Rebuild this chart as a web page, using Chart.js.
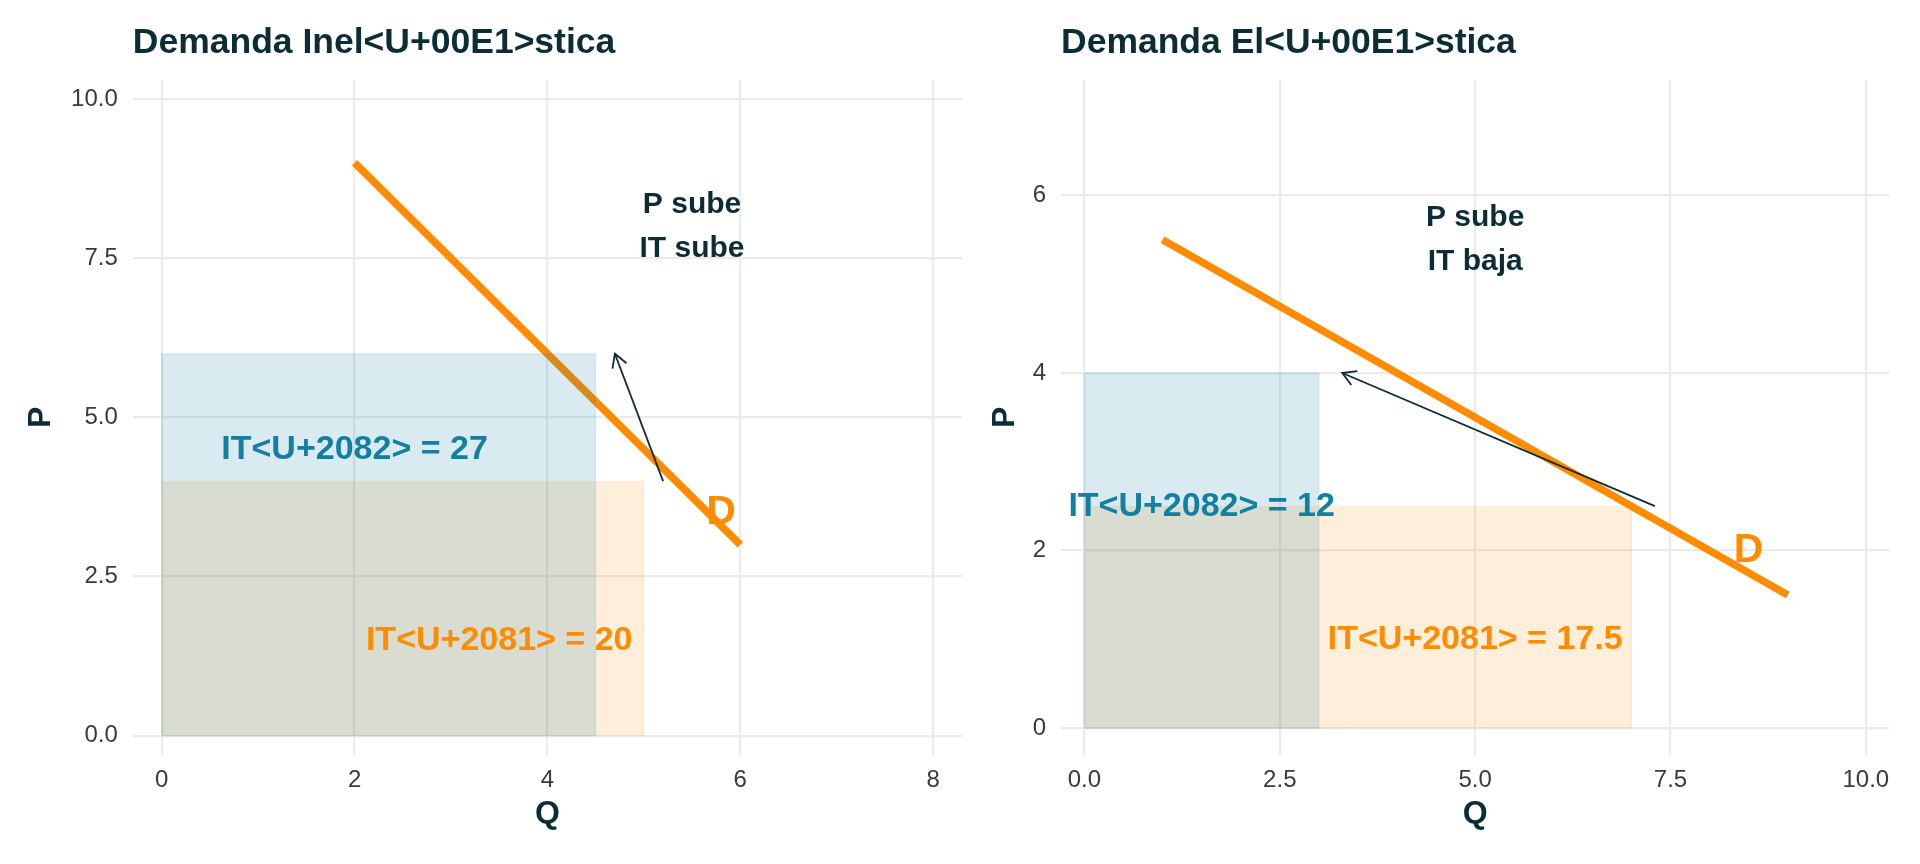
<!DOCTYPE html>
<html>
<head>
<meta charset="utf-8">
<title>Demanda inelástica vs elástica</title>
<script src="https://cdn.jsdelivr.net/npm/chart.js@4.4.1/dist/chart.umd.min.js"></script>
<style>
  html, body { margin: 0; padding: 0; background: #ffffff; }
  #wrap { position: relative; width: 1920px; height: 864px; overflow: hidden; }
  #inelasticChart { position: absolute; left: 0; top: 0; }
  #elasticChart { position: absolute; left: 980px; top: 0; }
</style>
</head>
<body>
<div id="wrap">
  <canvas id="inelasticChart" width="980" height="864"></canvas>
  <canvas id="elasticChart" width="940" height="864"></canvas>
</div>
<script>
// ---- Demanda inelástica ----
const inelQ = [5, 4.5];            // Q1, Q2
const inelP = [4, 6];              // P1, P2
const inelDemandQ = [2, 6];
const inelDemandP = [9, 3];
const inelArrowQ = [5.2, 4.7];
const inelArrowP = [4, 6];
const inelNotes = ['IT<U+2081> = 20', 'IT<U+2082> = 27', 'D', 'P sube\nIT sube'];
const inelNoteQ = [3.5, 2, 5.8, 5.5];
const inelNoteP = [1.5, 4.5, 3.5, 8];
const inelXTicks = [0, 2, 4, 6, 8];
const inelXTickLabels = ['0', '2', '4', '6', '8'];
const inelYTicks = [0, 2.5, 5, 7.5, 10];
const inelYTickLabels = ['0.0', '2.5', '5.0', '7.5', '10.0'];

// ---- Demanda elástica ----
const elasQ = [7, 3];              // Q1, Q2
const elasP = [2.5, 4];            // P1, P2
const elasDemandQ = [1, 9];
const elasDemandP = [5.5, 1.5];
const elasArrowQ = [7.3, 3.3];
const elasArrowP = [2.5, 4];
const elasNotes = ['IT<U+2081> = 17.5', 'IT<U+2082> = 12', 'D', 'P sube\nIT baja'];
const elasNoteQ = [5, 1.5, 8.5, 5];
const elasNoteP = [1, 2.5, 2, 5.5];
const elasXTicks = [0, 2.5, 5, 7.5, 10];
const elasXTickLabels = ['0.0', '2.5', '5.0', '7.5', '10.0'];
const elasYTicks = [0, 2, 4, 6];
const elasYTickLabels = ['0', '2', '4', '6'];

const noteKinds = ['it1', 'it2', 'd', 'note'];

// Styles
const FONT = "'Liberation Sans', Arial, Helvetica, sans-serif";
const DARK = '#0c2c36';
const TICK = '#3a3a3a';
const GRID = '#ebebeb';
const ORANGE = '#ff8c00';
const TEAL = '#1380a1';

const noteStyle = {
    it1: { color: ORANGE, size: 34, gap: 0 },
    it2: { color: TEAL, size: 34, gap: 0 },
    d: { color: ORANGE, size: 41, gap: 0 },
    note: { color: DARK, size: 30, gap: 44 }
};

Chart.defaults.font.family = FONT;

function zip(xs, ys) {
    return xs.map((x, i) => ({ x: x, y: ys[i] }));
}

// rectangle from the origin up to (q, p)
function rectPoints(q, p) {
    return zip([0, 0, q, q, 0], [0, p, p, 0, 0]);
}

// Open arrow heads at the end of datasets flagged with arrow: true
const arrowHeads = {
    id: 'arrowHeads',
    afterDatasetsDraw(chart) {
        const ctx = chart.ctx;
        chart.data.datasets.forEach((ds, i) => {
            if (!ds.arrow) return;
            const pts = chart.getDatasetMeta(i).data;
            const a = pts[pts.length - 2];
            const b = pts[pts.length - 1];
            const ang = Math.atan2(b.y - a.y, b.x - a.x);
            const len = 15;
            const spread = Math.PI / 6;
            ctx.save();
            ctx.strokeStyle = ds.borderColor;
            ctx.lineWidth = ds.borderWidth;
            ctx.beginPath();
            ctx.moveTo(b.x - len * Math.cos(ang - spread), b.y - len * Math.sin(ang - spread));
            ctx.lineTo(b.x, b.y);
            ctx.lineTo(b.x - len * Math.cos(ang + spread), b.y - len * Math.sin(ang + spread));
            ctx.stroke();
            ctx.restore();
        });
    }
};

// Text annotations placed through the chart scales
const noteLabels = {
    id: 'noteLabels',
    afterDatasetsDraw(chart, args, opts) {
        const ctx = chart.ctx;
        const xs = chart.scales.x;
        const ys = chart.scales.y;
        ctx.save();
        ctx.textAlign = 'center';
        ctx.textBaseline = 'middle';
        opts.text.forEach((t, i) => {
            const s = noteStyle[noteKinds[i]];
            const lines = t.split('\n');
            const cx = xs.getPixelForValue(opts.q[i]);
            const cy = ys.getPixelForValue(opts.p[i]);
            ctx.font = 'bold ' + s.size + 'px ' + FONT;
            ctx.fillStyle = s.color;
            lines.forEach((ln, k) => {
                ctx.fillText(ln, cx, cy + (k - (lines.length - 1) / 2) * s.gap);
            });
        });
        ctx.restore();
    }
};

function buildPanel(canvasId, p) {
    const ctx = document.getElementById(canvasId).getContext('2d');
    return new Chart(ctx, {
        type: 'line',
        data: {
            datasets: [{
                // arrow
                data: zip(p.arrowQ, p.arrowP),
                borderColor: DARK,
                borderWidth: 1.8,
                pointRadius: 0,
                fill: false,
                arrow: true
            }, {
                // IT2 rectangle
                data: rectPoints(p.q[1], p.p[1]),
                backgroundColor: 'rgba(19,128,161,0.16)',
                borderColor: 'rgba(19,128,161,0.10)',
                borderWidth: 1.5,
                pointRadius: 0,
                fill: 'shape'
            }, {
                // IT1 rectangle
                data: rectPoints(p.q[0], p.p[0]),
                backgroundColor: 'rgba(255,140,0,0.15)',
                borderColor: 'rgba(255,140,0,0.06)',
                borderWidth: 1,
                pointRadius: 0,
                fill: 'shape'
            }, {
                // demand curve
                data: zip(p.demandQ, p.demandP),
                borderColor: ORANGE,
                borderWidth: 7.5,
                borderCapStyle: 'butt',
                pointRadius: 0,
                fill: false
            }]
        },
        options: {
            responsive: false,
            animation: false,
            events: [],
            devicePixelRatio: 1,
            layout: { padding: { left: 0, right: p.padRight, top: 0, bottom: 0 } },
            scales: {
                x: {
                    type: 'linear',
                    bounds: 'data',
                    min: p.xMin,
                    max: p.xMax,
                    afterBuildTicks: s => { s.ticks = p.xTicks.map(v => ({ value: v })); },
                    afterFit: s => { s.height = 109.2; },
                    ticks: {
                        autoSkip: false,
                        maxRotation: 0,
                        padding: 11.3,
                        color: TICK,
                        font: { size: 24 },
                        callback: (v, i) => p.xTickLabels[i]
                    },
                    grid: { color: GRID, lineWidth: 2.2, drawTicks: false },
                    border: { display: false },
                    title: {
                        display: true,
                        text: 'Q',
                        color: DARK,
                        font: { size: 32, weight: 'bold' },
                        padding: { top: 0, bottom: 30.5 }
                    }
                },
                y: {
                    type: 'linear',
                    bounds: 'data',
                    min: p.yMin,
                    max: p.yMax,
                    afterBuildTicks: s => { s.ticks = p.yTicks.map(v => ({ value: v })); },
                    afterFit: s => { s.width = p.yAxisWidth; },
                    ticks: {
                        autoSkip: false,
                        padding: 15,
                        color: TICK,
                        font: { size: 24 },
                        callback: (v, i) => p.yTickLabels[i]
                    },
                    grid: { color: GRID, lineWidth: 2.2, drawTicks: false },
                    border: { display: false },
                    title: {
                        display: true,
                        text: 'P',
                        color: DARK,
                        font: { size: 32, weight: 'bold' },
                        padding: { top: p.yTitlePad, bottom: 0 }
                    }
                }
            },
            plugins: {
                legend: { display: false },
                tooltip: { enabled: false },
                title: {
                    display: true,
                    text: p.title,
                    align: 'start',
                    fullSize: false,
                    color: DARK,
                    font: { size: 35.5, weight: 'bold' },
                    padding: { top: 22.2, bottom: 15.2 }
                },
                noteLabels: { text: p.notes, q: p.noteQ, p: p.noteP }
            }
        },
        plugins: [arrowHeads, noteLabels]
    });
}

buildPanel('inelasticChart', {
    title: 'Demanda Inel<U+00E1>stica',
    q: inelQ, p: inelP,
    demandQ: inelDemandQ, demandP: inelDemandP,
    arrowQ: inelArrowQ, arrowP: inelArrowP,
    notes: inelNotes, noteQ: inelNoteQ, noteP: inelNoteP,
    xTicks: inelXTicks, xTickLabels: inelXTickLabels,
    yTicks: inelYTicks, yTickLabels: inelYTickLabels,
    xMin: -0.3, xMax: 8.3, yMin: -0.3, yMax: 10.3,
    padRight: 18, yAxisWidth: 132.8, yTitlePad: 21.8
});

buildPanel('elasticChart', {
    title: 'Demanda El<U+00E1>stica',
    q: elasQ, p: elasP,
    demandQ: elasDemandQ, demandP: elasDemandP,
    arrowQ: elasArrowQ, arrowP: elasArrowP,
    notes: elasNotes, noteQ: elasNoteQ, noteP: elasNoteP,
    xTicks: elasXTicks, xTickLabels: elasXTickLabels,
    yTicks: elasYTicks, yTickLabels: elasYTickLabels,
    xMin: -0.3, xMax: 10.3, yMin: -0.3, yMax: 7.3,
    padRight: 30.7, yAxisWidth: 81, yTitlePad: 5.8
});
</script>
</body>
</html>
